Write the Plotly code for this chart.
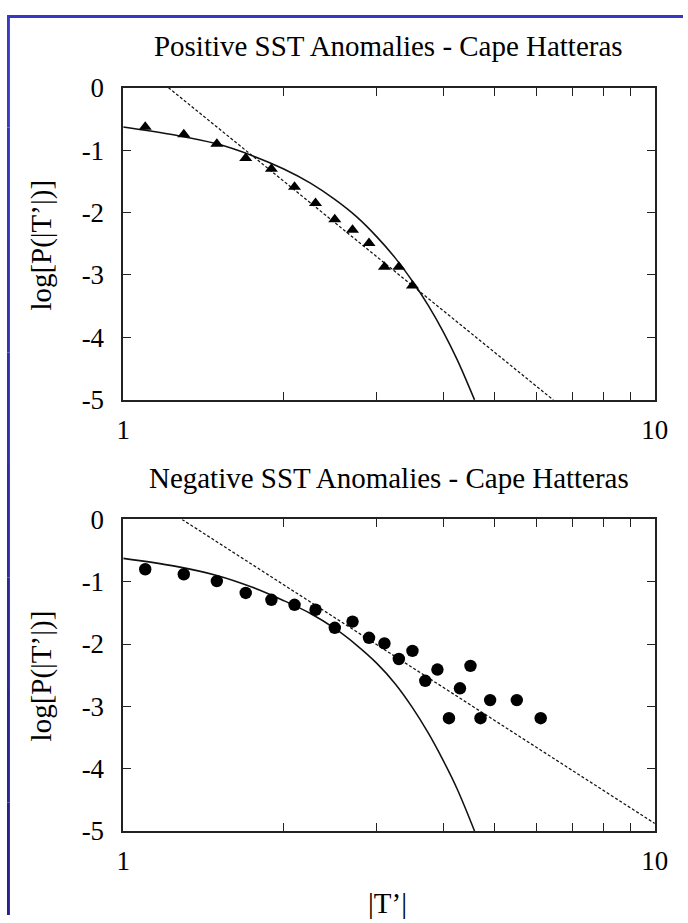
import plotly.graph_objects as go

# ---------------- data ----------------
# Positive anomalies (triangles)
pos_T = [1.1, 1.3, 1.5, 1.7, 1.9, 2.1, 2.3, 2.5, 2.7, 2.9, 3.1, 3.3, 3.5]
pos_logP = [-0.63, -0.75, -0.90, -1.13, -1.30, -1.59, -1.85, -2.11, -2.28, -2.49, -2.87, -2.87, -3.17]

# Negative anomalies (circles)
neg_T = [1.1, 1.3, 1.5, 1.7, 1.9, 2.1, 2.3, 2.5, 2.7, 2.9, 3.1, 3.3, 3.5, 3.7, 3.9,
         4.1, 4.3, 4.5, 4.7, 4.9, 5.5, 6.1]
neg_logP = [-0.80, -0.88, -0.99, -1.18, -1.29, -1.37, -1.45, -1.74, -1.64, -1.90, -1.99,
            -2.24, -2.11, -2.59, -2.41, -3.19, -2.71, -2.35, -3.19, -2.90, -2.90, -3.19]

# Solid (Gaussian-like) curves
curve_T = [1.0, 1.25, 1.5, 1.75, 2.0, 2.25, 2.5, 2.75, 3.0, 3.25, 3.5, 3.75, 4.0, 4.25, 4.58]
pos_curve = [-0.63, -0.76, -0.90, -1.09, -1.30, -1.53, -1.79, -2.07, -2.39, -2.73, -3.10,
             -3.49, -3.91, -4.36, -5.0]
neg_curve = [-0.625, -0.75, -0.90, -1.09, -1.30, -1.51, -1.75, -2.02, -2.31, -2.64, -3.02,
             -3.43, -3.87, -4.33, -5.0]

# Dashed power-law lines (end points)
pos_line_T = [1.216, 6.44]
pos_line_logP = [0.0, -5.0]
neg_line_T = [1.29, 10.0]
neg_line_logP = [0.0, -4.88]

# ticks and labels
x_tick_vals = [1, 2, 3, 4, 5, 6, 7, 8, 9, 10]
x_tick_text = ["1", "", "", "", "", "", "", "", "", "10"]
y_tick_vals = [0, -1, -2, -3, -4, -5]
y_tick_text = ["0", "-1", "-2", "-3", "-4", "-5"]

title_top = "Positive SST Anomalies - Cape Hatteras"
title_bottom = "Negative SST Anomalies - Cape Hatteras"
y_title = "log[P(|T’|)]"
x_title = "|T’|"

# ---------------- figure ----------------
# observed mapping of the page into the photograph: photo = offset + scale * figure
OX, OY, S = 7.7, 13.5, 0.966
W, H = 696, 930
FONT = "Liberation Serif"
INK = "#111111"

def px(x):  # photo x -> paper fraction
    return ((x - OX) / S) / W

def py(y):  # photo y -> paper fraction
    return 1 - ((y - OY) / S) / H

def sz(v):
    return v / S

fig = go.Figure()

# top panel
fig.add_trace(go.Scatter(x=curve_T, y=pos_curve, mode="lines", line=dict(color=INK, width=sz(1.5), shape="spline"),
                         xaxis="x", yaxis="y", showlegend=False, hoverinfo="skip"))
fig.add_trace(go.Scatter(x=pos_line_T, y=pos_line_logP, mode="lines",
                         line=dict(color=INK, width=sz(1.2), dash="3px,2px"),
                         xaxis="x", yaxis="y", showlegend=False))
fig.add_trace(go.Scatter(x=pos_T, y=pos_logP, mode="markers",
                         marker=dict(symbol="triangle-up", size=sz(11), color="black"),
                         xaxis="x", yaxis="y", showlegend=False))

# bottom panel
fig.add_trace(go.Scatter(x=curve_T, y=neg_curve, mode="lines", line=dict(color=INK, width=sz(1.5), shape="spline"),
                         xaxis="x2", yaxis="y2", showlegend=False, hoverinfo="skip"))
fig.add_trace(go.Scatter(x=neg_line_T, y=neg_line_logP, mode="lines",
                         line=dict(color=INK, width=sz(1.2), dash="3px,2px"),
                         xaxis="x2", yaxis="y2", showlegend=False))
fig.add_trace(go.Scatter(x=neg_T, y=neg_logP, mode="markers",
                         marker=dict(symbol="circle", size=sz(12), color="black"),
                         xaxis="x2", yaxis="y2", showlegend=False))

x_dom = [px(123.3), px(652.0)]
top_dom = [py(397.7), py(86.0)]
bot_dom = [py(828.0), py(517.0)]

def xaxis(anchor):
    return dict(type="log", range=[0, 1], domain=x_dom, anchor=anchor,
                tickvals=x_tick_vals, ticktext=x_tick_text,
                ticks="inside", ticklen=sz(8), tickwidth=sz(1.3), tickcolor="#222",
                showline=True, linecolor="#222", linewidth=sz(1.5), mirror="ticks",
                showgrid=False, zeroline=False, ticklabelstandoff=5,
                tickfont=dict(family=FONT, size=sz(26), color="black"))

def yaxis(anchor, dom):
    return dict(range=[-5, 0], domain=dom, anchor=anchor,
                tickvals=y_tick_vals, ticktext=y_tick_text,
                ticks="inside", ticklen=sz(8), tickwidth=sz(1.3), tickcolor="#222",
                showline=True, linecolor="#222", linewidth=sz(1.5), mirror="ticks",
                showgrid=False, zeroline=False, ticklabelstandoff=12,
                tickfont=dict(family=FONT, size=sz(26), color="black"))

# blue slide border (decoration) along the top and left edges
shapes = [dict(type="rect", xref="paper", yref="paper", x0=0, x1=1, y0=1 - 3 / H, y1=1,
               fillcolor="#3737c6", line=dict(width=0), layer="below")]
left_cols = ["#3a3ac4", "#3636bc", "#3333b4", "#3030ab", "#2d2ca2", "#2a299a", "#272592", "#25238b"]
n = len(left_cols)
for i, c in enumerate(left_cols):
    shapes.append(dict(type="rect", xref="paper", yref="paper", x0=0, x1=3 / W,
                       y0=1 - (i + 1) / n, y1=1 - i / n, fillcolor=c, line=dict(width=0), layer="below"))

annotations = [
    dict(text=title_top, x=px(387.5), y=py(44.0), xref="paper", yref="paper", showarrow=False,
         xanchor="center", yanchor="middle", font=dict(family=FONT, size=sz(28), color="black")),
    dict(text=title_bottom, x=px(387.5), y=py(475.5), xref="paper", yref="paper", showarrow=False,
         xanchor="center", yanchor="middle", font=dict(family=FONT, size=sz(28), color="black")),
    dict(text=y_title, x=px(41.7), y=py(243.5), xref="paper", yref="paper", showarrow=False,
         textangle=-90, xanchor="center", yanchor="middle", font=dict(family=FONT, size=sz(28), color="black")),
    dict(text=y_title, x=px(41.7), y=py(673.5), xref="paper", yref="paper", showarrow=False,
         textangle=-90, xanchor="center", yanchor="middle", font=dict(family=FONT, size=sz(28), color="black")),
    dict(text=x_title, x=px(386.5), y=py(900), xref="paper", yref="paper", showarrow=False,
         xanchor="center", yanchor="middle", font=dict(family=FONT, size=sz(28), color="black")),
]

fig.update_layout(
    width=W, height=H, autosize=False,
    margin=dict(l=0, r=0, t=0, b=0),
    paper_bgcolor="white", plot_bgcolor="white",
    font=dict(family=FONT, color="black"),
    xaxis=xaxis("y"), yaxis=yaxis("x", top_dom),
    xaxis2=xaxis("y2"), yaxis2=yaxis("x2", bot_dom),
    shapes=shapes, annotations=annotations,
    showlegend=False,
)

fig.write_html("out.html")
